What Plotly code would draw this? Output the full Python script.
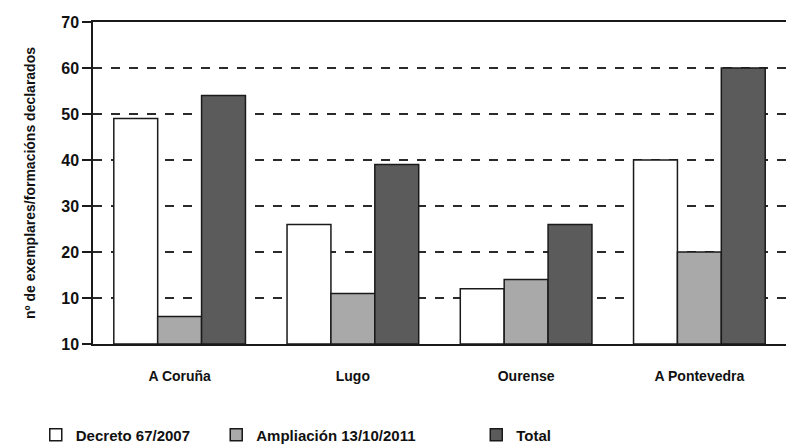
import plotly.graph_objects as go

categories = ["A Coruña", "Lugo", "Ourense", "A Pontevedra"]
decreto = [49, 26, 12, 40]
ampliacion = [6, 11, 14, 20]
total = [54, 39, 26, 60]
series_names = ["Decreto 67/2007", "Ampliación 13/10/2011", "Total"]
y_tickvals = [0, 10, 20, 30, 40, 50, 60, 70]
y_ticktext = ["10", "10", "20", "30", "40", "50", "60", "70"]

FONT = "Liberation Sans, Arial, sans-serif"
colors = ["#ffffff", "#a9a9a9", "#5b5b5b"]
line = dict(color="#1a1a1a", width=1.5)

fig = go.Figure()
for i, (name, vals) in enumerate(zip(series_names, [decreto, ampliacion, total])):
    fig.add_trace(go.Bar(
        x=categories, y=vals, name=name,
        marker=dict(color=colors[i], line=line),
        legend="legend" if i == 0 else f"legend{i+1}",
    ))

legend_common = dict(orientation="h", yanchor="middle", xanchor="left",
                      xref="container", yref="container",
                      font=dict(family=FONT, size=15, color="#111", weight="bold"),
                      bgcolor="rgba(0,0,0,0)")
fig.update_layout(
    width=788, height=445,
    margin=dict(l=93, r=2, t=22, b=101, autoexpand=False),
    plot_bgcolor="white", paper_bgcolor="white",
    barmode="group", bargap=0.24, bargroupgap=0,
    font=dict(family=FONT, color="#111", weight="bold"),
    showlegend=True,
    legend=dict(x=0.0454, y=0.0225, **legend_common),
    legend2=dict(x=0.2744, y=0.0225, **legend_common),
    legend3=dict(x=0.6044, y=0.0225, **legend_common),
    xaxis=dict(showline=True, linecolor="#1a1a1a", linewidth=1.5, mirror=True,
               ticks="", ticklabelstandoff=18,
               tickfont=dict(family=FONT, size=14, color="#111", weight="bold"),
               showgrid=False, automargin=False),
    yaxis=dict(range=[0, 70], tickvals=y_tickvals, ticktext=y_ticktext,
               showline=True, linecolor="#1a1a1a", linewidth=1.5,
               ticks="outside", ticklen=9, tickwidth=1.5, tickcolor="#1a1a1a",
               tickfont=dict(family=FONT, size=16, color="#111", weight="bold"),
               showgrid=True, gridcolor="#2a2a2a", gridwidth=1.5, griddash="dash",
               zeroline=False, automargin=False,
               title=dict(text="nº de exemplares/formacións declarados",
                          font=dict(family=FONT, size=14, color="#111", weight="bold"), standoff=22)),
)
fig.write_html("out.html", config={"displayModeBar": False},
               post_script="document.body.style.margin='0';document.body.style.padding='0';")
